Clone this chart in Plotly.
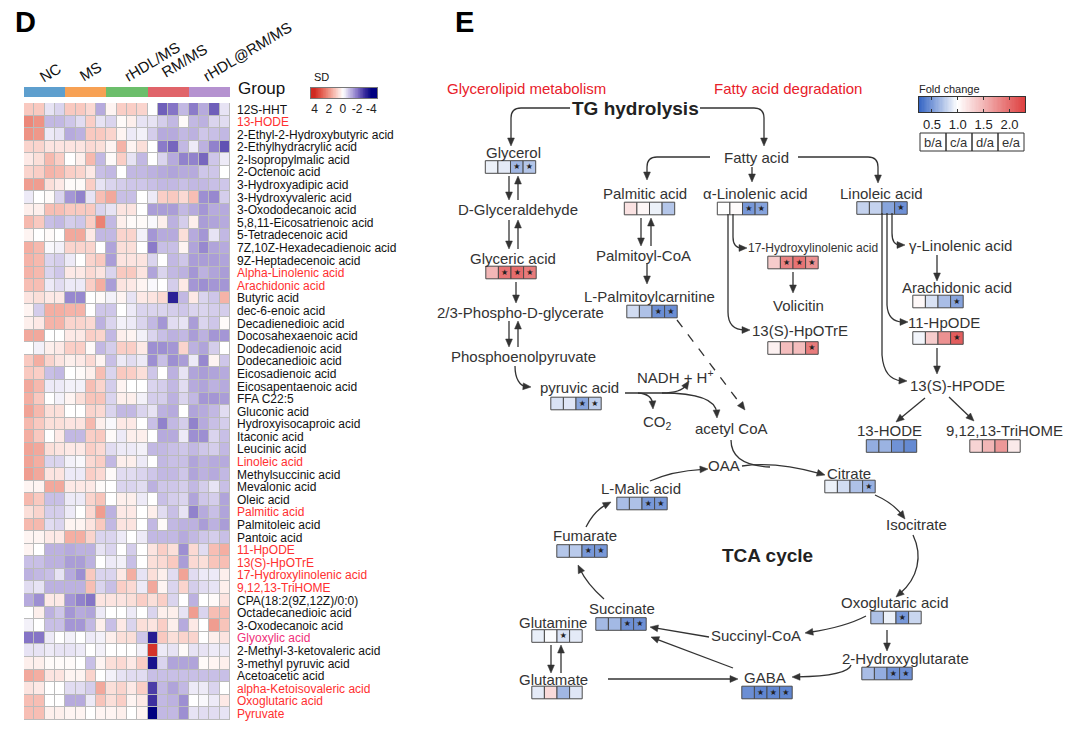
import math
import numpy as np
import plotly.graph_objects as go

W_PX, H_PX = 1077, 735
FONT = "Liberation Sans, Arial, sans-serif"
TXT = "#333333"

# ---------------- Panel D data ----------------
groups = ["NC", "MS", "rHDL/MS", "RM/MS", "rHDL@RM/MS"]
group_colors = ["#5E9FCE", "#F7A154", "#6CBE6B", "#E0646A", "#B592D0"]
reps_per_group = 4

metabolites = [
    "12S-HHT", "13-HODE", "2-Ethyl-2-Hydroxybutyric acid", "2-Ethylhydracrylic acid",
    "2-Isopropylmalic acid", "2-Octenoic acid", "3-Hydroxyadipic acid", "3-Hydroxyvaleric acid",
    "3-Oxododecanoic acid", "5,8,11-Eicosatrienoic acid", "5-Tetradecenoic acid",
    "7Z,10Z-Hexadecadienoic acid", "9Z-Heptadecenoic acid", "Alpha-Linolenic acid",
    "Arachidonic acid", "Butyric acid", "dec-6-enoic acid", "Decadienedioic acid",
    "Docosahexaenoic acid", "Dodecadienoic acid", "Dodecanedioic acid", "Eicosadienoic acid",
    "Eicosapentaenoic acid", "FFA C22:5", "Gluconic acid", "Hydroxyisocaproic acid",
    "Itaconic acid", "Leucinic acid", "Linoleic acid", "Methylsuccinic acid", "Mevalonic acid",
    "Oleic acid", "Palmitic acid", "Palmitoleic acid", "Pantoic acid", "11-HpODE",
    "13(S)-HpOTrE", "17-Hydroxylinolenic acid", "9,12,13-TriHOME", "CPA(18:2(9Z,12Z)/0:0)",
    "Octadecanedioic acid", "3-Oxodecanoic acid", "Glyoxylic acid", "2-Methyl-3-ketovaleric acid",
    "3-methyl pyruvic acid", "Acetoacetic acid", "alpha-Ketoisovaleric acid", "Oxoglutaric acid",
    "Pyruvate",
]
red_labels = ["13-HODE", "Alpha-Linolenic acid", "Arachidonic acid", "Linoleic acid",
              "Palmitic acid", "11-HpODE", "13(S)-HpOTrE", "17-Hydroxylinolenic acid",
              "9,12,13-TriHOME", "alpha-Ketoisovaleric acid", "Oxoglutaric acid", "Pyruvate"]
pink_labels = ["Glyoxylic acid"]

sd_values = [
    [1.0,1.0,-0.4,-0.6,1.0,1.0,0.7,-1.2,0.2,0.9,0.9,0.8,0.0,-2.3,-2.0,-1.0,-1.9,-1.2,-2.3,-0.4],
    [2.2,2.0,-1.0,-1.0,-0.8,-0.5,0.9,-0.4,-0.6,0.1,0.3,-0.4,-0.4,-0.7,-1.0,0.1,-1.0,-1.1,-0.6,-0.5],
    [2.0,1.9,-0.3,-0.4,-1.2,-1.1,1.0,1.0,0.8,0.2,-0.3,-0.2,-0.7,-1.2,-1.2,-1.0,-1.1,-0.8,-0.9,-1.0],
    [0.8,0.8,0.5,0.5,0.5,0.5,0.7,0.6,0.2,1.4,0.2,0.6,0.0,-1.9,-2.2,-1.0,-0.3,-1.1,-1.8,-2.5],
    [0.4,0.6,1.3,0.9,0.0,0.3,1.3,-1.0,0.1,0.9,-0.4,-1.0,0.0,-0.6,-1.2,-1.8,-1.8,-2.2,-0.8,-0.3],
    [0.8,0.9,1.4,1.3,0.9,0.8,0.4,-0.9,-1.0,0.0,-1.0,-1.0,-1.1,-1.2,-1.3,-1.2,-1.2,-0.8,-0.8,0.0],
    [1.8,1.8,0.6,0.4,0.1,0.1,0.9,-0.4,-0.6,-0.7,-0.8,-0.8,-0.9,-1.0,-1.0,-0.9,-1.0,-1.0,-0.9,-0.8],
    [-0.3,0.0,0.1,-0.6,-1.5,-1.8,-0.4,1.2,1.6,-0.9,-0.9,0.0,-0.3,0.9,1.0,0.7,1.2,-1.6,-1.7,-0.7],
    [0.3,0.3,1.2,1.2,1.0,1.0,1.0,-0.6,-0.4,0.5,0.5,0.0,-1.4,-1.4,-1.4,-1.0,-1.2,-1.5,-1.2,-1.2],
    [1.3,1.0,-0.9,-1.0,-0.7,-0.8,0.9,2.3,-1.0,0.3,0.1,0.1,-0.1,0.3,-1.1,-0.7,0.3,-1.4,-1.3,-1.2],
    [0.2,0.0,0.1,0.0,1.6,1.6,0.4,-1.0,-1.0,0.8,0.8,-0.2,-1.5,-1.2,-1.2,0.6,-1.2,-1.5,-0.4,-1.0],
    [1.5,1.3,-0.1,-0.2,0.8,0.8,0.8,0.0,-1.3,0.6,0.6,0.0,-1.9,-0.9,-0.9,0.2,-1.3,-1.7,-1.3,-1.2],
    [1.4,1.3,-0.6,-0.7,-0.3,0.0,0.8,1.0,-1.4,0.5,0.5,0.5,-0.6,0.0,-1.0,-0.8,-1.4,-1.4,-1.4,-1.3],
    [1.4,1.3,-0.6,-0.8,0.4,0.4,0.7,0.5,-0.6,1.0,1.0,0.5,-1.3,-0.6,-1.0,-1.1,-1.5,-1.1,-1.3,-1.4],
    [1.2,1.2,-0.3,-0.5,-0.3,-0.3,0.9,1.5,-1.4,0.5,0.4,0.2,-0.1,0.0,-0.7,0.4,-1.5,-1.6,-1.5,-1.5],
    [0.5,0.6,0.4,0.4,-1.7,-1.7,0.0,0.1,-0.2,0.2,-0.4,0.4,0.5,0.7,-3.3,-1.0,0.4,-0.6,-0.8,1.4],
    [0.2,-0.7,1.5,1.5,1.4,1.4,0.0,-0.8,-0.8,0.0,-0.3,-0.6,-0.6,-0.6,-0.7,-0.8,-0.6,-0.6,-0.7,-0.7],
    [0.3,0.4,1.4,1.4,0.8,0.8,0.7,-1.1,-0.6,-0.2,-0.3,-0.6,-1.0,-1.5,-0.5,-0.4,-1.4,-0.6,-0.8,0.1],
    [1.6,1.6,0.0,0.0,0.4,0.4,0.9,0.8,-1.0,0.3,0.2,-0.2,-0.6,-0.9,-1.1,-1.0,-1.4,-1.1,-1.5,-1.5],
    [0.0,-0.2,0.3,0.4,0.9,0.9,0.1,-1.0,-0.7,0.9,0.9,0.4,-1.6,-1.6,-1.5,0.8,-1.1,-1.3,-0.7,0.0],
    [1.0,1.5,0.8,0.5,0.3,0.4,0.7,0.2,-0.9,-0.3,-0.5,-0.3,-1.6,-0.9,-1.6,-1.4,-0.3,-1.7,0.2,-0.8],
    [1.0,0.9,-0.9,-1.0,0.0,0.1,0.3,1.2,-0.6,1.0,0.9,0.6,-0.8,0.0,-1.1,-0.4,-1.3,-1.4,-1.3,-1.2],
    [1.6,1.3,-0.3,-0.3,-0.2,-0.2,1.2,0.8,-0.7,0.2,0.0,0.0,-0.6,-0.7,-1.0,-0.5,-1.2,-1.3,-1.1,-1.2],
    [1.5,1.0,0.0,-0.2,0.2,0.6,1.1,1.1,-0.6,0.3,0.3,-0.2,-0.7,-0.7,-1.1,-0.6,-1.0,-1.5,-1.5,-1.4],
    [1.7,1.3,0.6,0.6,0.0,0.0,0.8,0.7,-0.6,-1.0,-1.0,-0.6,-0.4,-1.1,-1.2,0.0,-1.3,-1.2,-1.0,-0.5],
    [1.3,1.0,0.6,0.6,0.5,0.5,1.3,0.3,-0.1,0.4,0.4,0.0,-0.9,-1.8,-1.0,-0.7,-1.8,-1.2,-0.9,-0.7],
    [1.5,1.0,0.0,0.4,-1.0,-1.0,0.9,1.0,0.1,-0.3,0.3,0.3,0.0,-1.2,-1.2,-0.3,-1.6,-1.6,-0.6,-0.9],
    [1.7,1.6,0.6,0.5,0.4,0.4,0.9,0.7,-0.5,-0.3,-0.3,-0.2,-1.0,-1.0,-0.9,-0.8,-1.0,-0.8,-0.7,-1.0],
    [1.7,1.5,-0.6,-0.6,-0.2,-0.1,0.7,0.9,-1.0,0.3,0.3,-0.3,0.0,-1.0,-0.9,-0.9,-1.3,-1.1,-1.2,-1.2],
    [1.8,1.6,0.5,0.5,-0.3,-0.3,0.9,0.7,0.1,-0.5,-0.5,-0.6,-0.8,-1.0,-1.0,-0.8,-1.3,-1.1,-1.2,-1.0],
    [0.2,0.2,1.6,1.6,0.4,0.4,0.4,0.1,0.0,-0.6,-0.6,-0.5,-1.1,-0.8,-0.8,-0.7,-1.0,-0.7,-0.4,-0.9],
    [1.3,1.0,-0.9,-0.9,-0.3,-0.3,0.8,1.1,0.0,0.3,0.3,-0.3,0.0,-0.9,-0.7,-0.6,-1.3,-0.8,-0.7,-1.3],
    [0.6,0.8,-0.7,-0.7,-0.3,0.0,0.7,1.8,-1.1,0.4,0.4,0.0,0.3,-0.5,-0.9,-0.4,-1.8,-1.2,-0.9,-1.3],
    [1.3,1.3,-0.5,-0.6,0.2,0.2,0.5,1.0,-1.0,0.5,0.5,0.0,-1.0,0.1,-1.0,-1.1,-1.1,-1.4,-1.1,-1.4],
    [0.2,0.2,0.4,0.4,1.5,1.5,0.8,-0.6,-0.6,-0.3,0.0,-0.3,-1.0,-1.0,-1.0,-1.2,-1.0,-0.8,-0.7,-0.9],
    [0.2,0.0,-1.1,-1.1,-1.2,-1.1,-1.1,-0.4,-0.6,0.0,-0.7,0.0,0.5,0.9,0.6,-1.6,0.7,-0.5,1.2,1.5],
    [-0.9,-0.9,-1.1,-1.1,-1.4,-1.4,-1.1,0.0,-0.3,-0.2,-0.9,0.0,0.6,0.7,1.0,-1.4,0.7,0.6,1.1,1.2],
    [-1.1,-1.0,-0.9,-0.4,-1.2,-1.6,1.0,-0.6,-0.6,0.4,1.5,-0.4,0.6,0.3,-0.5,1.7,-0.5,-0.3,-0.3,0.3],
    [-0.5,-0.4,-1.1,-1.1,-1.1,-1.1,1.2,-0.6,-0.9,0.9,0.7,-0.3,1.6,0.2,-0.6,0.8,-0.7,-0.5,-0.4,0.3],
    [-1.2,-1.6,0.4,0.4,-1.5,-1.8,-2.0,0.5,0.5,0.5,0.6,0.9,0.6,0.9,-0.6,0.0,-1.1,0.0,0.1,0.5],
    [0.0,0.3,-1.1,-0.8,-1.5,-1.2,-1.3,-0.3,0.0,0.0,-0.3,0.0,-0.6,0.3,0.3,-0.4,1.8,-0.6,1.2,1.2],
    [-0.2,0.0,-0.9,-0.9,-1.5,-1.5,-1.0,0.3,-0.9,0.4,-0.6,0.6,0.5,0.9,0.3,-1.2,0.4,0.0,1.8,1.1],
    [-2.0,-2.0,-0.3,0.0,-0.2,0.0,-0.3,-0.2,0.3,0.6,0.6,-0.8,-3.4,1.0,0.6,0.8,0.8,0.0,0.3,0.5],
    [-0.4,-0.4,-0.3,-0.4,-0.4,-0.3,0.0,-0.2,0.0,0.0,0.0,-0.2,3.8,-0.3,-0.4,0.1,-0.4,-0.4,-0.3,-0.3],
    [0.3,0.3,0.1,0.1,0.1,0.0,-0.9,0.2,0.6,0.7,0.4,0.9,-3.6,-0.6,-1.3,-1.3,-1.3,0.1,0.2,0.3],
    [1.6,1.5,0.5,0.5,0.2,0.2,0.8,0.0,-0.2,-0.4,-0.5,-0.5,-0.9,-0.9,-0.9,-0.9,-0.9,-0.9,-0.9,-0.9],
    [0.5,0.4,0.0,0.0,-0.5,-0.5,-0.7,1.6,0.6,0.8,0.4,0.9,-2.8,-1.0,-1.3,-1.0,-0.3,-0.3,-0.6,0.0],
    [1.2,1.2,0.0,0.0,-1.2,-1.2,-0.3,1.1,0.6,0.9,0.2,0.4,-3.0,-1.0,-1.1,-1.6,0.0,-0.1,-0.3,0.4],
    [1.2,1.2,0.3,0.3,0.2,0.2,0.0,0.2,0.2,0.3,0.0,0.2,-4.2,-1.0,-1.0,-1.6,-0.4,-0.5,-0.5,-0.4],
]
sd_ticks = [4, 2, 0, -2, -4]
sd_legend_steps = np.linspace(-4.8, 4.8, 97)

# ---------------- Panel E data ----------------
fc_names = ["Glycerol", "Glyceric acid", "Palmitic acid", "α-Linolenic acid", "Linoleic acid",
            "L-Palmitoylcarnitine", "pyruvic acid", "17-Hydroxylinolenic acid", "13(S)-HpOTrE",
            "Arachidonic acid", "11-HpODE", "13-HODE", "9,12,13-TriHOME", "Citrate",
            "L-Malic acid", "Fumarate", "Succinate", "Glutamine", "Glutamate", "GABA",
            "Oxoglutaric acid", "2-Hydroxyglutarate"]
fc_values = [
    [0.93, 0.90, 0.65, 0.72], [1.50, 1.95, 2.00, 1.90], [1.20, 1.06, 0.93, 0.72],
    [1.00, 1.03, 0.50, 0.55], [0.78, 0.78, 0.56, 0.46], [0.83, 0.70, 0.45, 0.45],
    [0.86, 0.88, 0.56, 0.76], [1.35, 1.85, 1.95, 1.75], [1.10, 1.45, 1.45, 1.90],
    [1.05, 0.86, 0.68, 0.55], [0.95, 1.35, 1.75, 2.10], [0.60, 0.63, 0.47, 0.43],
    [1.30, 1.50, 1.70, 1.15], [0.93, 0.83, 0.70, 0.62], [0.68, 0.70, 0.50, 0.50],
    [0.72, 0.74, 0.50, 0.50], [0.66, 0.66, 0.46, 0.46], [0.92, 0.98, 0.86, 0.90],
    [0.90, 1.25, 0.65, 0.88], [0.45, 0.41, 0.41, 0.41], [0.70, 0.93, 0.50, 0.80],
    [0.68, 0.60, 0.46, 0.46],
]
fc_stars = [
    [0,0,1,1], [0,1,1,1], [0,0,0,0], [0,0,1,1], [0,0,0,1], [0,0,1,1], [0,0,1,1], [0,1,1,1],
    [0,0,0,1], [0,0,0,1], [0,0,0,1], [0,0,0,0], [0,0,0,0], [0,0,0,1], [0,0,1,1], [0,0,1,1],
    [0,0,1,1], [0,0,1,0], [0,0,0,0], [0,1,1,1], [0,0,1,0], [0,0,1,1],
]
fc_comparisons = ["b/a", "c/a", "d/a", "e/a"]
fc_ticks = [0.5, 1.0, 1.5, 2.0]
fc_min, fc_max = 0.25, 2.3
fc_legend_steps = np.linspace(fc_min, fc_max, 83)

# ---------------- Layout geometry (pixels) ----------------
box_center = {
    "Glycerol": (510.5, 167), "Glyceric acid": (511, 272.5), "Palmitic acid": (649.5, 208.5),
    "α-Linolenic acid": (742.5, 208.5), "Linoleic acid": (882, 208),
    "L-Palmitoylcarnitine": (652, 311.5), "pyruvic acid": (576, 403.5),
    "17-Hydroxylinolenic acid": (793, 262.5), "13(S)-HpOTrE": (793, 348),
    "Arachidonic acid": (938, 301.5), "11-HpODE": (938, 338), "13-HODE": (891.5, 446),
    "9,12,13-TriHOME": (995, 446), "Citrate": (850, 486.5), "L-Malic acid": (642, 503.5),
    "Fumarate": (582, 551), "Succinate": (621, 624), "Glutamine": (557, 636),
    "Glutamate": (557, 692.5), "GABA": (767, 692.5), "Oxoglutaric acid": (896, 617.5),
    "2-Hydroxyglutarate": (887, 673.5),
}
CELL = 12.6

node_labels = [
    ("Glycerol", 513, 152, 15), ("D-Glyceraldehyde", 518, 209, 15), ("Glyceric acid", 513, 258, 15),
    ("2/3-Phospho-D-glycerate", 520, 312, 15), ("Phosphoenolpyruvate", 523, 356, 15),
    ("pyruvic acid", 579, 387, 15), ("NADH + H<sup>+</sup>", 675, 376, 15), ("CO<sub>2</sub>", 657, 422, 15),
    ("acetyl CoA", 731, 428, 15), ("Palmitic acid", 645, 193, 15), ("Fatty acid", 756, 157, 15),
    ("α-Linolenic acid", 755, 193, 15), ("Linoleic acid", 881, 193, 15),
    ("Palmitoyl-CoA", 643, 255, 15), ("L-Palmitoylcarnitine", 649, 296, 15),
    ("17-Hydroxylinolenic acid", 813, 248, 12), ("Volicitin", 798, 305, 15),
    ("13(S)-HpOTrE", 800, 330, 15), ("γ-Linolenic acid", 960, 245, 15),
    ("Arachidonic acid", 957, 287, 15), ("11-HpODE", 944, 322, 15), ("13(S)-HPODE", 957, 385, 15),
    ("13-HODE", 889, 430, 15), ("9,12,13-TriHOME", 1004, 430, 15), ("OAA", 724, 465, 15),
    ("Citrate", 849, 473, 15), ("Isocitrate", 916, 524, 15), ("Oxoglutaric acid", 895, 602, 15),
    ("Succinyl-CoA", 756, 635, 15), ("2-Hydroxyglutarate", 905, 658, 15), ("GABA", 765, 677, 15),
    ("Succinate", 622, 608, 15), ("Fumarate", 585, 535, 15), ("L-Malic acid", 641, 488, 15),
    ("Glutamine", 553, 622, 15), ("Glutamate", 553, 679, 15),
]

arrows = [
    ([("M", 570, 108), ("L", 521, 108), ("Q", 511, 108, 511, 118), ("L", 511, 146)], None),
    ([("M", 700, 108), ("L", 754, 108), ("Q", 764, 108, 764, 118), ("L", 764, 146)], None),
    ([("M", 509, 176), ("L", 509, 200)], None), ([("M", 518, 200), ("L", 518, 176)], None),
    ([("M", 509, 220), ("L", 509, 249)], None), ([("M", 518, 249), ("L", 518, 220)], None),
    ([("M", 516, 282), ("L", 516, 303)], None),
    ([("M", 509, 321), ("L", 509, 347)], None), ([("M", 518, 347), ("L", 518, 321)], None),
    ([("M", 515, 366), ("C", 515, 379, 520, 386, 531, 387)], None),
    ([("M", 625, 393), ("L", 662, 393), ("Q", 681, 393, 689, 381)], None),
    ([("M", 638, 393), ("Q", 652, 394, 653, 409)], None),
    ([("M", 662, 393), ("C", 700, 393, 716, 400, 717, 418)], None),
    ([("M", 677, 320), ("L", 745, 410)], "dash"),
    ([("M", 710, 157), ("L", 657, 157), ("Q", 647, 157, 647, 167), ("L", 647, 180)], None),
    ([("M", 752, 167), ("L", 752, 182)], None),
    ([("M", 798, 157), ("L", 868, 157), ("Q", 878, 157, 878, 167), ("L", 878, 183)], None),
    ([("M", 641, 218), ("L", 641, 246)], None), ([("M", 651, 246), ("L", 651, 218)], None),
    ([("M", 647, 263), ("L", 647, 284)], None),
    ([("M", 733, 214), ("L", 733, 237), ("Q", 733, 248, 747, 248)], None),
    ([("M", 728, 214), ("L", 728, 312), ("Q", 728, 330, 750, 330)], None),
    ([("M", 793, 272), ("L", 793, 293)], None),
    ([("M", 892, 213), ("L", 892, 233), ("Q", 892, 245, 905, 245)], None),
    ([("M", 887, 213), ("L", 887, 305), ("Q", 888, 322, 908, 322)], None),
    ([("M", 882, 213), ("L", 882, 355), ("Q", 884, 380, 907, 381)], None),
    ([("M", 937, 255), ("L", 937, 281)], None),
    ([("M", 937, 348), ("L", 937, 374)], None),
    ([("M", 925, 398), ("L", 896, 422)], None),
    ([("M", 949, 397), ("L", 974, 421)], None),
    ([("M", 650, 481), ("Q", 672, 471, 708, 469)], None),
    ([("M", 742, 466), ("C", 770, 462, 800, 468, 825, 475)], None),
    ([("M", 731, 440), ("C", 731, 458, 745, 466, 770, 467)], "nohead"),
    ([("M", 875, 495), ("Q", 893, 503, 905, 519)], None),
    ([("M", 913, 535), ("C", 923, 556, 918, 578, 896, 597)], None),
    ([("M", 866, 616), ("Q", 845, 627, 805, 633)], None),
    ([("M", 887, 630), ("L", 887, 651)], None),
    ([("M", 851, 665), ("Q", 848, 676, 792, 677)], None),
    ([("M", 709, 637), ("Q", 680, 632, 650, 627)], None),
    ([("M", 733, 668), ("L", 651, 637)], None),
    ([("M", 604, 599), ("Q", 587, 584, 578, 565)], None),
    ([("M", 586, 527), ("Q", 594, 511, 611, 502)], None),
    ([("M", 551, 645), ("L", 551, 673)], None), ([("M", 561, 673), ("L", 561, 645)], None),
    ([("M", 608, 679), ("L", 738, 679)], None),
]


def build_arrow(cmds, style):
    pts_prev = cmds[-2][-2:]
    last = cmds[-1]
    tip = last[-2:]
    if last[0] == "Q":
        frm = (last[1], last[2])
    elif last[0] == "C":
        frm = (last[3], last[4])
    else:
        frm = pts_prev
    dx, dy = tip[0] - frm[0], tip[1] - frm[1]
    n = math.hypot(dx, dy) or 1.0
    ux, uy = dx / n, dy / n
    has_head = style != "nohead"
    cut = 5.0 if has_head else 0.0
    end = (tip[0] - ux * cut, tip[1] - uy * cut)
    parts = []
    for c in cmds[:-1]:
        parts.append(c[0] + " " + " ".join(f"{v}" for v in c[1:]))
    parts.append(last[0] + " " + " ".join(f"{v}" for v in last[1:-2]) + f" {end[0]:.2f} {end[1]:.2f}")
    line_path = " ".join(parts)
    shapes = [dict(type="path", path=line_path, xref="x4", yref="y4",
                   line=dict(color=TXT, width=1.3, dash="dash" if style == "dash" else "solid"))]
    if has_head:
        L, Wd = 8.0, 3.4
        bx, by = tip[0] - ux * L, tip[1] - uy * L
        px, py = -uy, ux
        head = (f"M {tip[0]:.2f} {tip[1]:.2f} L {bx + px*Wd:.2f} {by + py*Wd:.2f} "
                f"L {bx - px*Wd:.2f} {by - py*Wd:.2f} Z")
        shapes.append(dict(type="path", path=head, xref="x4", yref="y4",
                           fillcolor=TXT, line=dict(color=TXT, width=0.5)))
    return shapes


# ---------------- Figure ----------------
fig = go.Figure()

n_rows, n_cols = len(metabolites), len(groups) * reps_per_group

fig.add_trace(go.Heatmap(z=sd_values, x=list(range(n_cols)), y=list(range(n_rows)),
                         coloraxis="coloraxis", xgap=1, ygap=1, xaxis="x", yaxis="y",
                         hoverinfo="skip"))

group_idx = [[g for g in range(len(groups)) for _ in range(reps_per_group)]]
k = len(groups)
disc = []
for i, c in enumerate(group_colors):
    disc.append([i / k, c])
    disc.append([(i + 1) / k, c])
fig.add_trace(go.Heatmap(z=group_idx, x=list(range(n_cols)), y=[0], colorscale=disc,
                         zmin=-0.5, zmax=k - 0.5, showscale=False, xaxis="x2", yaxis="y2",
                         hoverinfo="skip"))

fig.add_trace(go.Heatmap(z=[list(sd_legend_steps)], x=list(sd_legend_steps), y=[0],
                         coloraxis="coloraxis", xaxis="x3", yaxis="y3", hoverinfo="skip"))

fig.add_trace(go.Heatmap(z=[list(fc_legend_steps)], x=list(fc_legend_steps), y=[0],
                         coloraxis="coloraxis2", xaxis="x5", yaxis="y5", hoverinfo="skip"))

cx, cy, cv, sx, sy = [], [], [], [], []
for name, vals, stars in zip(fc_names, fc_values, fc_stars):
    bx, by = box_center[name]
    for i, (v, s) in enumerate(zip(vals, stars)):
        x = bx + (i - 1.5) * CELL
        cx.append(x); cy.append(by); cv.append(v)
        if s:
            sx.append(x); sy.append(by)
fig.add_trace(go.Scatter(x=cx, y=cy, mode="markers", xaxis="x4", yaxis="y4",
                         marker=dict(symbol="square", size=CELL, color=cv, coloraxis="coloraxis2",
                                     line=dict(color="#4a4a4a", width=1)),
                         hoverinfo="skip", showlegend=False))
fig.add_trace(go.Scatter(x=sx, y=sy, mode="text", text=["★"] * len(sx), xaxis="x4", yaxis="y4",
                         textfont=dict(size=8, color="#222222", family="DejaVu Sans"),
                         hoverinfo="skip", showlegend=False))

# ---- shapes
shapes = [dict(type="rect", xref="x", yref="y", x0=-0.56, x1=n_cols - 0.44, y0=-0.56, y1=n_rows - 0.44,
               fillcolor="#BBBBBB", line=dict(width=0), layer="below")]
for cmds, style in arrows:
    shapes += build_arrow(cmds, style)
# comparison legend boxes
bx0, bw, by0, by1 = 920, 26, 133, 151
for i in range(len(fc_comparisons)):
    shapes.append(dict(type="rect", xref="x4", yref="y4", x0=bx0 + i * bw, x1=bx0 + (i + 1) * bw,
                       y0=by0, y1=by1, line=dict(color="#333333", width=1)))

# ---- annotations
ann = []
def txt(t, x, y, size, color=TXT, bold=False, xanchor="center", angle=0, family=FONT):
    ann.append(dict(text=f"<b>{t}</b>" if bold else t, x=x, y=y, xref="x4", yref="y4",
                    showarrow=False, xanchor=xanchor, yanchor="middle", textangle=angle,
                    font=dict(size=size, color=color, family=family)))

txt("D", 25, 22, 29, color="#000000", bold=True)
txt("E", 464, 22, 29, color="#000000", bold=True)
label_pos = [(50, 72), (90, 71), (152, 61), (184, 60), (247, 51)]
for g, (x, y) in zip(groups, label_pos):
    txt(g, x, y, 15, color="#111111", angle=-31)
txt("Group", 236, 88, 17, color="#111111", xanchor="left")
txt("SD", 312, 77, 11, color="#111111", xanchor="left")
txt("Fold change", 917, 89, 11, color="#222222", xanchor="left")

txt("Glycerolipid metabolism", 526, 88, 15, color="#E8202A")
txt("Fatty acid degradation", 788, 88, 15, color="#E8202A")
txt("TG hydrolysis", 635, 108, 19, color="#222222", bold=True)
txt("TCA cycle", 767, 555, 19, color="#222222", bold=True)
for t, x, y, s in node_labels:
    txt(t, x, y, s)
for i, c in enumerate(fc_comparisons):
    txt(c, bx0 + (i + 0.5) * bw, (by0 + by1) / 2, 13)

ticktext = []
for m in metabolites:
    col = "#FF3030" if m in red_labels else ("#F0307A" if m in pink_labels else "#111111")
    ticktext.append(f"<span style='color:{col}'>{m}</span>")

sd_scale = [[0.0, "#000080"], [0.125, "#3D2F9F"], [0.25, "#8574C6"], [0.375, "#C2B8E3"],
            [0.5, "#FFFFFF"], [0.625, "#F9C9C0"], [0.75, "#EE9284"], [0.875, "#E35B4E"],
            [1.0, "#D02A22"]]
fc_scale = [[0.0, "#3565C4"], [(1.0 - fc_min) / (fc_max - fc_min), "#FFFFFF"], [1.0, "#DE4040"]]

hx0, hx1 = 24 / W_PX, 230 / W_PX
fig.update_layout(
    width=W_PX, height=H_PX, margin=dict(l=0, r=0, t=0, b=0),
    paper_bgcolor="white", plot_bgcolor="rgba(0,0,0,0)", showlegend=False,
    font=dict(family=FONT, color=TXT),
    coloraxis=dict(cmin=-4, cmax=4, colorscale=sd_scale, showscale=False),
    coloraxis2=dict(cmin=fc_min, cmax=fc_max, colorscale=fc_scale, showscale=False),
    xaxis=dict(domain=[hx0, hx1], range=[-0.5, n_cols - 0.5], showticklabels=False,
               showgrid=False, zeroline=False, anchor="y"),
    yaxis=dict(domain=[1 - 720 / H_PX, 1 - 103 / H_PX], range=[n_rows - 0.5, -0.5], side="right",
               tickvals=list(range(n_rows)), ticktext=ticktext, ticks="", ticklabelstandoff=6,
               tickfont=dict(size=12, family=FONT), showgrid=False, zeroline=False, anchor="x"),
    xaxis2=dict(domain=[hx0, hx1], range=[-0.5, n_cols - 0.5], visible=False, anchor="y2"),
    yaxis2=dict(domain=[1 - 97 / H_PX, 1 - 87 / H_PX], range=[-0.5, 0.5], visible=False, anchor="x2"),
    xaxis3=dict(domain=[311 / W_PX, 377 / W_PX], range=[4.5, -4.8], tickvals=sd_ticks,
                ticktext=[str(t) for t in sd_ticks], tickfont=dict(size=12, color="#222222"),
                ticks="", showgrid=False, zeroline=False, anchor="y3",
                showline=True, mirror=True, linecolor="#777777", linewidth=1),
    yaxis3=dict(domain=[1 - 98 / H_PX, 1 - 88 / H_PX], range=[-0.5, 0.5], showticklabels=False,
                ticks="", showgrid=False, zeroline=False, anchor="x3",
                showline=True, mirror=True, linecolor="#777777", linewidth=1),
    xaxis4=dict(domain=[0, 1], range=[0, W_PX], visible=False, anchor="y4", fixedrange=True),
    yaxis4=dict(domain=[0, 1], range=[H_PX, 0], visible=False, anchor="x4", fixedrange=True),
    xaxis5=dict(domain=[919 / W_PX, 1025 / W_PX], range=[fc_min, fc_max], tickvals=fc_ticks,
                ticktext=[f"{t:.1f}" for t in fc_ticks], tickfont=dict(size=13, color="#222222"),
                ticks="inside", ticklen=3, tickcolor="#333333", showgrid=False, zeroline=False,
                anchor="y5", showline=True, mirror="allticks", linecolor="#333333", linewidth=1),
    yaxis5=dict(domain=[1 - 112 / H_PX, 1 - 97 / H_PX], range=[-0.5, 0.5], showticklabels=False,
                ticks="", showgrid=False, zeroline=False, anchor="x5",
                showline=True, mirror=True, linecolor="#333333", linewidth=1),
    shapes=shapes, annotations=ann,
)

fig.write_html("out.html", config={"displayModeBar": False, "staticPlot": True},
               post_script="document.body.style.margin='0px';document.body.style.overflow='hidden';")
